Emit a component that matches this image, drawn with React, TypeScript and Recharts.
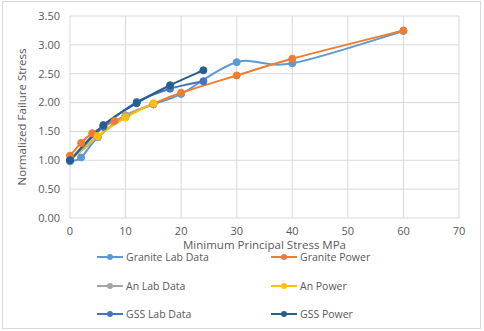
import React from 'react';
import { LineChart, Line, XAxis, YAxis, CartesianGrid, Legend } from 'recharts';

const seriesNames = ['Granite Lab Data', 'Granite Power', 'An Lab Data', 'An Power', 'GSS Lab Data', 'GSS Power'];
const seriesColors = ['#5B9BD5', '#ED7D31', '#A5A5A5', '#FFC000', '#4472C4', '#255E91'];

const graniteLabX = [0, 2, 5, 10, 15, 20, 30, 40, 60];
const graniteLabY = [0.98, 1.05, 1.4, 1.77, 1.97, 2.15, 2.7, 2.68, 3.24];
const granitePowerX = [0, 2, 4, 6, 8, 10, 15, 20, 30, 40, 60];
const granitePowerY = [1.08, 1.3, 1.47, 1.58, 1.68, 1.77, 1.98, 2.17, 2.47, 2.76, 3.25];
const anLabX = [0, 5, 10, 15];
const anLabY = [1.0, 1.4, 1.78, 1.97];
const anPowerX = [0, 5, 10, 15];
const anPowerY = [1.0, 1.42, 1.74, 1.99];
const gssLabX = [0, 6, 12, 18, 24];
const gssLabY = [1.0, 1.58, 2.01, 2.24, 2.37];
const gssPowerX = [0, 6, 12, 18, 24];
const gssPowerY = [1.0, 1.61, 1.99, 2.3, 2.56];

const xTicks = [0, 10, 20, 30, 40, 50, 60, 70];
const yTicks = [0, 0.5, 1, 1.5, 2, 2.5, 3, 3.5];

const zip = (xs: number[], ys: number[]) => xs.map((x, i) => ({ x, y: ys[i] }));
const seriesData = [
  zip(graniteLabX, graniteLabY),
  zip(granitePowerX, granitePowerY),
  zip(anLabX, anLabY),
  zip(anPowerX, anPowerY),
  zip(gssLabX, gssLabY),
  zip(gssPowerX, gssPowerY),
];

// Catmull-Rom style smoothing similar to Excel's smoothed lines
function smoothCurve(context: any) {
  let pts: number[][] = [];
  return {
    areaStart() {},
    areaEnd() {},
    lineStart() {
      pts = [];
    },
    point(x: number, y: number) {
      pts.push([+x, +y]);
    },
    lineEnd() {
      const n = pts.length;
      if (n === 0) return;
      context.moveTo(pts[0][0], pts[0][1]);
      for (let i = 0; i < n - 1; i++) {
        const p0 = pts[i - 1] || pts[i];
        const p1 = pts[i];
        const p2 = pts[i + 1];
        const p3 = pts[i + 2] || p2;
        const c1x = p1[0] + (p2[0] - p0[0]) / 6;
        const c1y = p1[1] + (p2[1] - p0[1]) / 6;
        const c2x = p2[0] - (p3[0] - p1[0]) / 6;
        const c2y = p2[1] - (p3[1] - p1[1]) / 6;
        context.bezierCurveTo(c1x, c1y, c2x, c2y, p2[0], p2[1]);
      }
    },
  };
}

const FONT = "'Open Sans', sans-serif";
const TEXT = '#595959';

const LegendContent = (props: any) => {
  const payload = [...(props.payload || [])].sort(
    (a: any, b: any) => seriesNames.indexOf(a.value) - seriesNames.indexOf(b.value)
  );
  return (
    <div style={{ position: 'relative', width: 484, height: 80 }}>
      {payload.map((entry: any, i: number) => {
        const col = i % 2;
        const row = Math.floor(i / 2);
        const left = col === 0 ? 97 : 271;
        const top = 3 + row * 28.5;
        return (
          <div key={i} style={{ position: 'absolute', left, top, height: 16, lineHeight: '16px', display: 'flex', alignItems: 'center', whiteSpace: 'nowrap' }}>
            <svg width={27} height={10} style={{ display: 'block' }}>
              <line x1={0} y1={5} x2={26} y2={5} stroke={entry.color} strokeWidth={2} />
              <circle cx={13} cy={5} r={3} fill={entry.color} />
            </svg>
            <span style={{ marginLeft: 2, fontFamily: FONT, fontSize: 10.5, lineHeight: '16px', color: TEXT }}>{entry.value}</span>
          </div>
        );
      })}
    </div>
  );
};

export default function App() {
  return (
    <div style={{ position: 'absolute', left: 0, top: 0, width: 484, height: 331, background: '#fff' }}>
      <div style={{ position: 'absolute', left: 2, top: 1, width: 477, height: 326, border: '1px solid #D9D9D9' }} />
      <LineChart width={484} height={331} margin={{ top: 16, right: 25, left: 0, bottom: 83 }}>
        <CartesianGrid stroke="#D9D9D9" strokeWidth={1} />
        <XAxis
          type="number"
          dataKey="x"
          domain={[0, 70]}
          ticks={xTicks}
          interval={0}
          axisLine={false}
          tickLine={false}
          height={30}
          tickMargin={3}
          tick={{ fill: TEXT, fontSize: 11, fontFamily: FONT }}
          label={{ value: 'Minimum Principal Stress MPa', position: 'insideBottom', offset: -1, fill: TEXT, fontSize: 11.5, fontFamily: FONT }}
        />
        <YAxis
          type="number"
          domain={[0, 3.5]}
          ticks={yTicks}
          interval={0}
          width={70}
          axisLine={false}
          tickLine={false}
          tickMargin={4}
          tickFormatter={(v: number) => v.toFixed(2)}
          tick={{ fill: TEXT, fontSize: 11, fontFamily: FONT }}
          label={{ value: 'Normalized Failure Stress', angle: -90, position: 'insideLeft', offset: 22, fill: TEXT, fontSize: 11.5, fontFamily: FONT, style: { textAnchor: 'middle' } }}
        />
        <Legend
          layout="horizontal"
          verticalAlign="middle"
          align="center"
          wrapperStyle={{ top: 246, left: 0, width: 484 }}
          content={<LegendContent />}
        />
        {seriesNames.map((name, i) => (
          <Line
            key={name}
            name={name}
            data={seriesData[i]}
            dataKey="y"
            type={smoothCurve as any}
            stroke={seriesColors[i]}
            strokeWidth={2}
            dot={{ r: 3.5, fill: seriesColors[i], stroke: seriesColors[i], strokeWidth: 1 }}
            activeDot={false}
            isAnimationActive={false}
            legendType="line"
          />
        ))}
      </LineChart>
    </div>
  );
}
